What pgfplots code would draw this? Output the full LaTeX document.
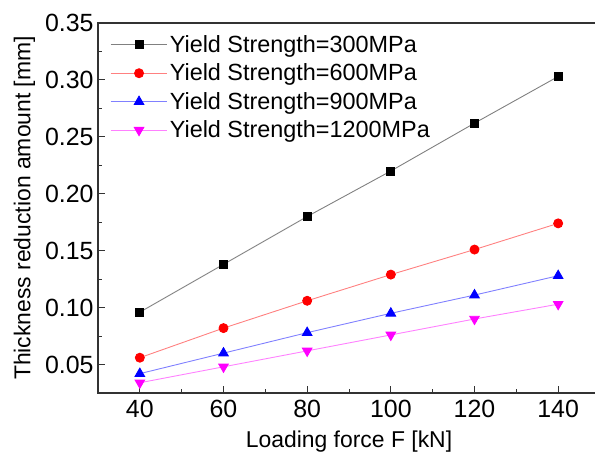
\documentclass[border=0pt]{standalone}
\usepackage{pgfplots}
\pgfplotsset{compat=1.18}
\usepackage{fontspec}
\setmainfont{Liberation Sans}
\definecolor{axcol}{HTML}{333333}
\definecolor{mag}{HTML}{FF00FF}
\definecolor{lmag}{HTML}{FF80FF}
\definecolor{lred}{HTML}{FF8080}
\definecolor{lblue}{HTML}{8080FF}
\definecolor{mred}{HTML}{FF0000}
\definecolor{mblue}{HTML}{0000FF}
\begin{document}
\begin{tikzpicture}
\begin{axis}[
  name=ax,
  scale only axis,
  width=502bp, height=370bp,
  xmin=30, xmax=150, ymin=0.025, ymax=0.35,
  xtick={40,60,...,140},
  ytick={0.05,0.10,0.15,0.20,0.25,0.30,0.35},
  minor x tick num=1, minor y tick num=1,
  xtick pos=bottom, ytick pos=left,
  tick align=inside,
  major tick length=7bp, minor tick length=4bp,
  axis line style={axcol, line width=1.2pt},
  every tick/.style={axcol, line width=1pt},
  font=\fontsize{25}{29}\selectfont,
  /pgf/number format/assume math mode=true,
  yticklabel style={/pgf/number format/fixed, /pgf/number format/precision=2, /pgf/number format/fixed zerofill, xshift=-1bp},
  xticklabel style={yshift=-4bp},
  xlabel={Loading force F [kN]},
  ylabel={Thickness reduction amount [mm]},
  xlabel style={font=\fontsize{23}{27}\selectfont, yshift=-6bp},
  ylabel style={font=\fontsize{23}{27}\selectfont, yshift=3bp},
  legend style={draw=none, fill=none, at={(rel axis cs:0.024,0.972)}, anchor=north west,
    font=\fontsize{23.5}{27}\selectfont, row sep=6bp, inner sep=0pt},
  legend cell align=left,
  legend image code/.code={\draw[mark repeat=2,mark phase=2] plot coordinates {(0cm,0cm) (1cm,0cm) (2cm,0cm)};},
]
\addplot[color=gray, line width=0.9pt, mark=square*, mark size=4bp, mark options={black, fill=black, solid}]
  coordinates {(40,0.096) (60,0.138) (80,0.180) (100,0.220) (120,0.262) (140,0.303)};
\addlegendentry{Yield Strength=300MPa}
\addplot[color=lred, line width=0.9pt, mark=*, mark size=4.5bp, mark options={mred, fill=mred, solid}]
  coordinates {(40,0.056) (60,0.082) (80,0.106) (100,0.129) (120,0.151) (140,0.174)};
\addlegendentry{Yield Strength=600MPa}
\addplot[color=lblue, line width=0.9pt, mark=triangle*, mark size=5.5bp, mark options={mblue, fill=mblue, solid}]
  coordinates {(40,0.042) (60,0.060) (80,0.078) (100,0.095) (120,0.111) (140,0.128)};
\addlegendentry{Yield Strength=900MPa}
\addplot[color=lmag, line width=0.9pt, mark=triangle*, mark size=5.5bp, mark options={mag, fill=mag, solid, rotate=180}]
  coordinates {(40,0.034) (60,0.048) (80,0.062) (100,0.076) (120,0.090) (140,0.103)};
\addlegendentry{Yield Strength=1200MPa}
\end{axis}
\pgfresetboundingbox
\path ([xshift=-98bp,yshift=-59bp]ax.south west) rectangle ([xshift=497bp,yshift=23bp]ax.north west);
\end{tikzpicture}
\end{document}
